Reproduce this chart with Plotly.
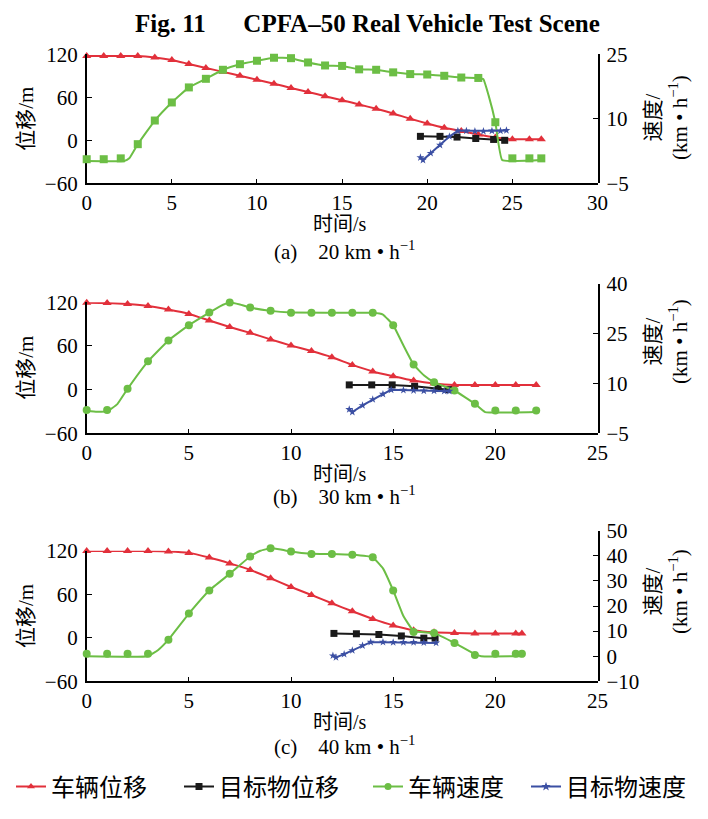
import plotly.graph_objects as go

# page body has an 8px margin, so the figure is 8px smaller than the window
OFF = 8
W, H = 708 - OFF, 819 - OFF

# ---------------- data ----------------
# Panel (a) 20 km/h
a_t = list(range(27)) + [26.7]
a_veh_disp = [117.5, 117.5, 117.5, 117.5, 115.5, 112, 106.5, 101, 95.5, 90, 84.5, 79, 73, 67.5,
              61.5, 56, 50, 44, 37.5, 30, 23.5, 17.5, 13, 8, 4, 1.5, 1.5, 1.5]
a_speed_mk = [0.6, 0.6, 0.8, 4.1, 9.6, 13.8, 17.3, 19.3, 21.4, 22.7, 23.5, 24.2, 24.1, 23.1,
              22.4, 22.3, 21.5, 21.4, 20.8, 20.4, 20.3, 20.0, 19.6, 19.5, 9.2, 0.8, 0.8, 0.8]
a_speed_line_t = [0, 2.2, 2.5, 3, 4, 5, 6, 7, 8, 9, 10, 11, 12, 13, 14, 15, 16, 17, 18, 19, 20,
                  21, 22, 23, 23.3, 23.6, 24, 24.4, 26.7]
a_speed_line_v = [0.2, 0.2, 0.8, 4.1, 9.6, 13.8, 17.3, 19.3, 21.4, 22.7, 23.5, 24.2, 24.1, 23.1,
                  22.4, 22.3, 21.5, 21.4, 20.8, 20.4, 20.3, 20.0, 19.6, 19.5, 19.2, 15.5, 9.2,
                  0.4, 0.4]
a_tgt_t = [19.6, 20.75, 21.75, 22.85, 23.9, 24.55]
a_tgt_disp = [5.5, 5.5, 4.5, 2.5, 1.2, 0]
a_tgt_speed_t = [19.6, 19.75, 20.2, 20.75, 21.3, 21.8, 22.3, 22.8, 23.3, 23.8, 24.3, 24.65]
a_tgt_speed = [1.0, 0.4, 2.0, 3.9, 5.9, 7.2, 7.2, 7.1, 7.1, 7.2, 7.2, 7.3]

# Panel (b) 30 km/h
b_t = list(range(23))
b_veh_disp = [119.5, 119, 117.5, 115, 110, 104, 95, 86, 78, 69, 60.5, 53, 44.5, 34, 25, 18.5,
              12.5, 8.5, 6.5, 6.5, 6.5, 6.5, 6.5]
b_speed_mk = [2, 2, 8.4, 16.7, 23, 27.6, 31.4, 34.4, 32.9, 31.9, 31.3, 31.3, 31.3, 31.3, 31.3,
              27.6, 15.7, 10.4, 7.9, 3.9, 1.9, 1.9, 1.9]
b_speed_line_t = [0, 0.5, 1, 1.5, 2, 3, 4, 5, 6, 6.5, 7, 7.5, 8, 9, 10, 14, 14.5, 15, 15.5, 16,
                  16.5, 17, 18, 19, 19.5, 22]
b_speed_line_v = [1.8, 1.5, 1.6, 3.8, 8.4, 16.7, 23, 27.6, 31.4, 33.2, 34.4, 33.8, 32.9, 31.9,
                  31.4, 31.3, 30.8, 27.6, 21.5, 15.7, 12.5, 10.4, 7.9, 3.9, 1.4, 1.4]
b_tgt_t = [12.85, 13.95, 14.95, 16.05, 17.2, 17.7]
b_tgt_disp = [6.5, 6.5, 6.5, 4.5, 1.5, 0]
b_tgt_speed_t = [12.85, 13.0, 13.5, 14.0, 14.5, 14.9, 15.5, 16, 16.5, 17, 17.5, 17.75]
b_tgt_speed = [2.2, 1.4, 3.4, 5.2, 6.8, 8.1, 8.0, 7.9, 7.8, 7.8, 7.7, 7.7]

# Panel (c) 40 km/h
c_t = list(range(22)) + [21.3]
c_veh_disp = [119.5, 119.5, 119.5, 119.5, 119, 117, 110.5, 102.5, 93.5, 82, 70, 59, 47.5, 36.5,
              26, 17, 10.5, 7.5, 6.5, 6, 6, 6, 6]
c_speed_mk = [1, 1, 1, 1, 6.6, 17, 26.2, 32.8, 39.7, 43, 41.7, 40.7, 40.7, 40.4, 39.4, 26.2,
              9.6, 9.2, 5.3, 0.5, 1, 1, 1]
c_speed_line_t = [0, 3, 3.5, 4, 5, 6, 7, 8, 8.5, 9, 9.5, 10, 11, 12, 13, 14, 14.5, 15, 15.5, 16,
                  17, 18, 19, 19.3, 21.4]
c_speed_line_v = [0, 0, 2.5, 6.6, 17, 26.2, 32.8, 39.7, 42, 43, 42.5, 41.7, 40.8, 40.7, 40.4,
                  39.4, 35, 26.2, 16, 10, 9.2, 5.3, 0.8, 0, 0]
c_tgt_t = [12.1, 13.2, 14.3, 15.4, 16.5, 17.05]
c_tgt_disp = [6, 5.5, 4.5, 2.5, -0.5, -0.5]
c_tgt_speed_t = [12.05, 12.2, 12.6, 13.0, 13.5, 13.9, 14.5, 15, 15.5, 16, 16.5, 17.1]
c_tgt_speed = [0.2, -0.5, 0.8, 2.3, 4.2, 5.6, 5.6, 5.5, 5.5, 5.5, 5.4, 5.3]

series_names = ["车辆位移", "目标物位移", "车辆速度", "目标物速度"]
subtitles = ["(a)\u00a0\u00a0\u00a0\u00a020 km • h<sup>−1</sup>",
             "(b)\u00a0\u00a0\u00a0\u00a030 km • h<sup>−1</sup>",
             "(c)\u00a0\u00a0\u00a0\u00a040 km • h<sup>−1</sup>"]
x_ranges = [[0, 30], [0, 25], [0, 25]]
speed_ranges = [[-5, 25], [-5, 40], [-10, 50]]
speed_dticks = [15, 15, 10]
disp_range = [-60, 120]

# ---------------- style / layout ----------------
RED = "#E2303B"
BLACK = "#1A1A1A"
GREEN = "#6CBE45"
BLUE = "#3B4FA3"
SERIF = "Liberation Serif, Noto Sans CJK SC"
CJK = "Noto Sans CJK SC"


def fx(px):  # screen px -> paper fraction
    return (px - OFF) / W


def fy(py):
    return 1 - (py - OFF) / H


X_DOM = [fx(86.7), fx(597.5)]
# (left-axis top, bottom, right-axis top) in screen pixels
panel_px = [(54.3, 183.3, 54.3), (302.3, 433.3, 284.0), (550.7, 681.3, 530.7)]
xtitle_py = [224, 474, 722]
sub_py = [251, 496, 745]
rtitle_py = [118, 342, 592]

panels = [
    dict(t=a_t, disp=a_veh_disp, smk=a_speed_mk, slt=a_speed_line_t, slv=a_speed_line_v,
         tt=a_tgt_t, td=a_tgt_disp, tst=a_tgt_speed_t, ts=a_tgt_speed, gsym="square"),
    dict(t=b_t, disp=b_veh_disp, smk=b_speed_mk, slt=b_speed_line_t, slv=b_speed_line_v,
         tt=b_tgt_t, td=b_tgt_disp, tst=b_tgt_speed_t, ts=b_tgt_speed, gsym="circle"),
    dict(t=c_t, disp=c_veh_disp, smk=c_speed_mk, slt=c_speed_line_t, slv=c_speed_line_v,
         tt=c_tgt_t, td=c_tgt_disp, tst=c_tgt_speed_t, ts=c_tgt_speed, gsym="circle"),
]

fig = go.Figure()
layout = {}
annotations = []

axis_common = dict(showgrid=False, zeroline=False, showline=True, linecolor="black",
                   linewidth=1.6, ticks="inside", ticklen=5, tickwidth=1.4, tickcolor="black",
                   tickfont=dict(family=SERIF, size=21, color="black"), automargin=False)

for i, p in enumerate(panels):
    xn = "x" if i == 0 else f"x{i + 1}"
    yl_idx = 2 * i + 1
    yr_idx = 2 * i + 2
    yl = "y" if yl_idx == 1 else f"y{yl_idx}"
    yr = f"y{yr_idx}"
    top_l, bot, top_r = panel_px[i]

    layout["xaxis" if i == 0 else f"xaxis{i + 1}"] = dict(
        axis_common, domain=X_DOM, anchor=yl, range=x_ranges[i], dtick=5, tick0=0)
    layout["yaxis" if yl_idx == 1 else f"yaxis{yl_idx}"] = dict(
        axis_common, domain=[fy(bot), fy(top_l)], anchor=xn, range=disp_range, dtick=60,
        tick0=0, ticklabelstandoff=3)
    layout[f"yaxis{yr_idx}"] = dict(
        axis_common, domain=[fy(bot), fy(top_r)], anchor=xn, side="right",
        range=speed_ranges[i], dtick=speed_dticks[i], tick0=speed_ranges[i][0],
        ticklabelstandoff=3)

    # vehicle displacement (red)
    fig.add_trace(go.Scatter(x=p["t"], y=p["disp"], xaxis=xn, yaxis=yl, mode="lines+markers",
                             line=dict(color=RED, width=2, shape="spline", smoothing=0.5),
                             marker=dict(symbol="triangle-up", size=8, color=RED),
                             cliponaxis=False, showlegend=False))
    # target displacement (black)
    fig.add_trace(go.Scatter(x=p["tt"], y=p["td"], xaxis=xn, yaxis=yl, mode="lines+markers",
                             line=dict(color=BLACK, width=2),
                             marker=dict(symbol="square", size=7, color=BLACK),
                             cliponaxis=False, showlegend=False))
    # vehicle speed (green) line and markers
    fig.add_trace(go.Scatter(x=p["slt"], y=p["slv"], xaxis=xn, yaxis=yr, mode="lines",
                             line=dict(color=GREEN, width=2, shape="spline", smoothing=0.3),
                             cliponaxis=False, showlegend=False))
    fig.add_trace(go.Scatter(x=p["t"], y=p["smk"], xaxis=xn, yaxis=yr, mode="markers",
                             marker=dict(symbol=p["gsym"], size=8, color=GREEN),
                             cliponaxis=False, showlegend=False))
    # target speed (blue)
    fig.add_trace(go.Scatter(x=p["tst"], y=p["ts"], xaxis=xn, yaxis=yr, mode="lines+markers",
                             line=dict(color=BLUE, width=2),
                             marker=dict(symbol="star", size=6, color=BLUE),
                             cliponaxis=False, showlegend=False))

    # axis titles and subtitle
    annotations.append(dict(text="位移/m", xref="paper", yref="paper", x=fx(26),
                            y=fy((top_l + bot) / 2), textangle=-90, showarrow=False,
                            font=dict(family=SERIF, size=21, color="black"),
                            xanchor="center", yanchor="middle"))
    annotations.append(dict(text="速度/<br>(km • h<sup>−1</sup>)", xref="paper", yref="paper",
                            x=fx(666), y=fy(rtitle_py[i]), textangle=-90, showarrow=False,
                            font=dict(family=SERIF, size=21, color="black"),
                            xanchor="center", yanchor="middle", align="center"))
    annotations.append(dict(text="时间/s", xref="paper", yref="paper", x=fx(340),
                            y=fy(xtitle_py[i]), showarrow=False,
                            font=dict(family=SERIF, size=20, color="black"),
                            xanchor="center", yanchor="middle"))
    annotations.append(dict(text=subtitles[i], xref="paper", yref="paper", x=fx(344),
                            y=fy(sub_py[i]), showarrow=False,
                            font=dict(family=SERIF, size=21, color="black"),
                            xanchor="center", yanchor="middle"))

annotations.append(dict(text="<b>Fig. 11\u00a0\u00a0\u00a0\u00a0\u00a0\u00a0CPFA–50 Real Vehicle Test Scene</b>",
                        xref="paper", yref="paper", x=fx(367), y=1, showarrow=False,
                        font=dict(family="Liberation Serif", size=25, color="black"),
                        xanchor="center", yanchor="top"))

# legend-only entries, one legend each so they sit where the reference puts them
legend_styles = [(RED, "triangle-up"), (BLACK, "square"), (GREEN, "circle"), (BLUE, "star")]
legend_x_px = [11, 179, 368, 526]
legend_defs = {}
for k, (name, (col, sym)) in enumerate(zip(series_names, legend_styles)):
    lname = "legend" if k == 0 else f"legend{k + 1}"
    fig.add_trace(go.Scatter(x=[None], y=[None], mode="lines+markers", name=name,
                             legend=lname, line=dict(color=col, width=2),
                             marker=dict(symbol=sym, size=7, color=col)))
    legend_defs[lname] = dict(orientation="h", x=fx(legend_x_px[k]), y=fy(787),
                              xanchor="left", yanchor="middle",
                              font=dict(family=CJK, size=24, color="black"), itemwidth=30,
                              bgcolor="rgba(0,0,0,0)")

fig.update_layout(
    width=W, height=H,
    margin=dict(l=0, r=0, t=0, b=0),
    paper_bgcolor="white", plot_bgcolor="rgba(0,0,0,0)",
    annotations=annotations,
    showlegend=True,
    **legend_defs,
    **layout,
)

fig.write_html("out.html")
